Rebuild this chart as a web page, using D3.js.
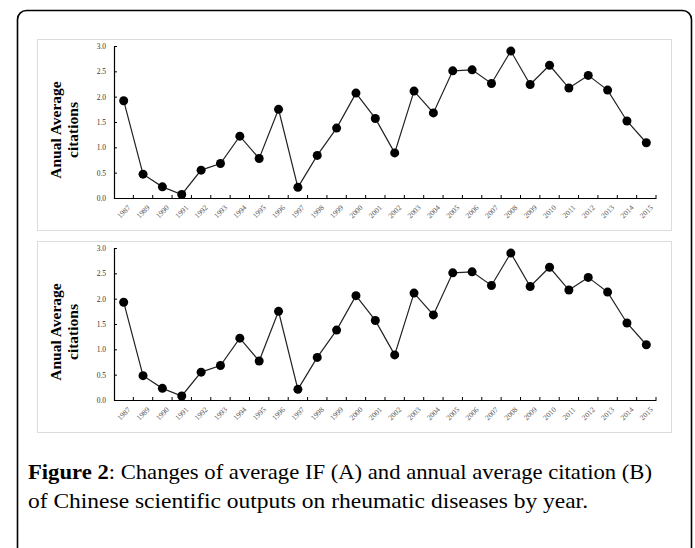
<!DOCTYPE html>
<html>
<head>
<meta charset="utf-8">
<script src="https://cdn.jsdelivr.net/npm/d3@7"></script>
<style>
  body { margin: 0; background: #fff; }
  svg { display: block; }
</style>
</head>
<body>
<svg id="fig" width="695" height="548"></svg>
<script>
const years = ["1987","1989","1990","1991","1992","1993","1994","1995","1996","1997","1998","1999","2000",
               "2001","2002","2003","2004","2005","2006","2007","2008","2009","2010","2011","2012","2013","2014","2015"];
// panel A and panel B (both)
const valuesA = [1.92,0.47,0.22,0.07,0.55,0.68,1.22,0.78,1.75,0.21,0.84,1.38,2.07,
                 1.57,0.89,2.11,1.68,2.51,2.53,2.26,2.90,2.24,2.62,2.17,2.42,2.13,1.52,1.09];
const valuesB = [1.93,0.48,0.23,0.08,0.55,0.68,1.22,0.77,1.75,0.21,0.84,1.38,2.06,
                 1.57,0.89,2.11,1.68,2.51,2.53,2.26,2.90,2.24,2.62,2.17,2.42,2.13,1.52,1.09];
const yTicks = [0, 0.5, 1.0, 1.5, 2.0, 2.5, 3.0];
const titleLines = ["Anual Average", "citations"];
const captionBold = "Figure 2";
const captionLines = [": Changes of average IF (A) and annual average citation (B)",
                      "of Chinese scientific outputs on rheumatic diseases by year."];

const svg = d3.select("#fig");

// outer figure frame
svg.append("rect")
   .attr("x", 17.5).attr("y", 10.5)
   .attr("width", 674).attr("height", 600)
   .attr("rx", 9)
   .attr("fill", "none")
   .attr("stroke", "#000")
   .attr("stroke-width", 1.6);

const x = d3.scaleBand().domain(years).range([114, 656]);

function drawPanel(top, values) {
    const g = svg.append("g");

    g.append("rect")
     .attr("x", 37.5).attr("y", top + 0.5)
     .attr("width", 634).attr("height", 191)
     .attr("fill", "#fff")
     .attr("stroke", "#dcdcdc");

    const y = d3.scaleLinear().domain([0, 3]).range([top + 159, top + 7]);

    const yAxis = g.append("g")
       .attr("transform", "translate(114,0)")
       .call(d3.axisLeft(y).tickValues(yTicks).tickFormat(d3.format(".1f")).tickSize(-3));
    yAxis.select(".domain").attr("stroke", "#000").attr("stroke-width", 1.2);
    yAxis.selectAll(".tick line").attr("stroke", "#000");
    yAxis.selectAll(".tick text")
         .attr("x", -8)
         .attr("font-family", "Liberation Serif")
         .attr("font-size", 7.5)
         .attr("fill", "#333");

    const xAxis = g.append("g")
       .attr("transform", `translate(0,${top + 159})`)
       .call(d3.axisBottom(x).tickSize(0).tickSizeOuter(0));
    xAxis.select(".domain").attr("stroke", "#000").attr("stroke-width", 1.2);
    xAxis.selectAll(".tick line").remove();
    xAxis.selectAll(".tick text")
         .attr("font-family", "Liberation Serif")
         .attr("font-size", 7.5)
         .attr("fill", "#555")
         .attr("text-anchor", "end")
         .attr("dy", 0)
         .attr("transform", "translate(5,8) rotate(-45)");

    // band boundary ticks pointing up
    g.append("g").selectAll("line")
     .data(years.slice(1).concat(["end"]))
     .join("line")
     .attr("x1", d => d === "end" ? x.range()[1] : x(d))
     .attr("x2", d => d === "end" ? x.range()[1] : x(d))
     .attr("y1", top + 159).attr("y2", top + 156)
     .attr("stroke", "#000");

    const line = d3.line()
        .x((d, i) => x(years[i]) + x.bandwidth() / 2)
        .y(d => y(d));

    g.append("path")
     .datum(values)
     .attr("d", line)
     .attr("fill", "none")
     .attr("stroke", "#222")
     .attr("stroke-width", 1.2);

    g.selectAll("circle")
     .data(values)
     .join("circle")
     .attr("cx", (d, i) => x(years[i]) + x.bandwidth() / 2)
     .attr("cy", d => y(d))
     .attr("r", 4.5)
     .attr("fill", "#000");

    const title = g.append("text")
     .attr("transform", `translate(0,${top + 91}) rotate(-90)`)
     .attr("text-anchor", "middle")
     .attr("font-family", "Liberation Serif")
     .attr("font-weight", "bold")
     .attr("font-size", 15.5);
    title.selectAll("tspan")
     .data(titleLines)
     .join("tspan")
     .attr("x", 0)
     .attr("y", (d, i) => 61 + i * 17)
     .text(d => d);
}

drawPanel(39, valuesA);
drawPanel(241, valuesB);

// caption
const cap = svg.append("text")
   .attr("font-family", "Liberation Serif")
   .attr("font-size", 22)
   .attr("textLength", 624)
   .attr("lengthAdjust", "spacingAndGlyphs")
   .attr("x", 28).attr("y", 479)
   .attr("fill", "#000");
cap.append("tspan").attr("font-weight", "bold").text(captionBold);
cap.append("tspan").text(captionLines[0]);
svg.append("text")
   .attr("x", 28).attr("y", 508)
   .attr("font-family", "Liberation Serif")
   .attr("font-size", 22)
   .attr("textLength", 560)
   .attr("lengthAdjust", "spacingAndGlyphs")
   .text(captionLines[1]);
</script>
</body>
</html>
